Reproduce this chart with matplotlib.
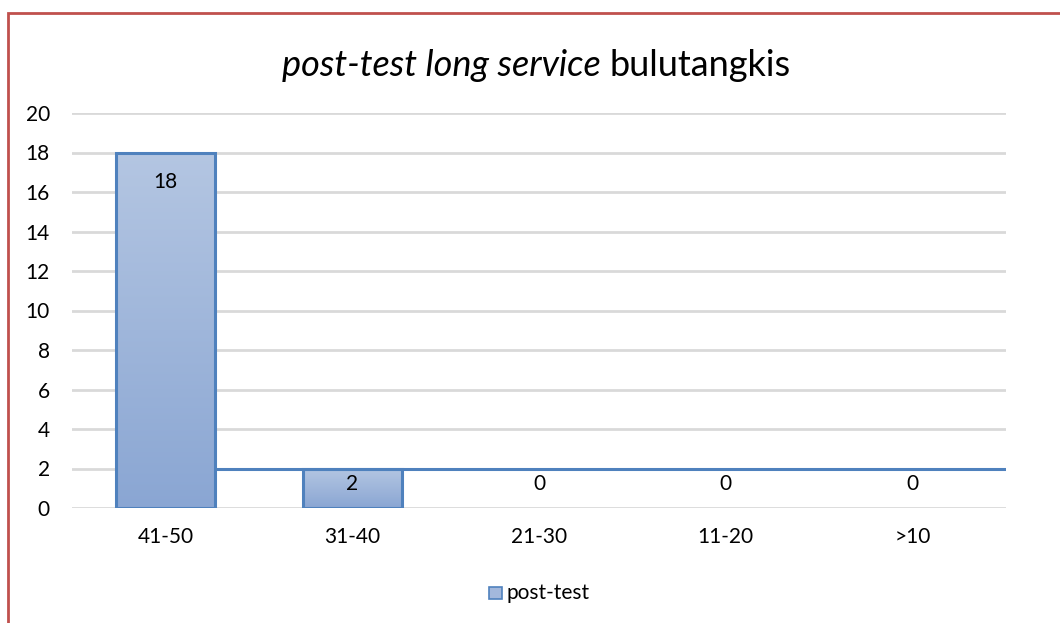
import numpy as np
import matplotlib
matplotlib.use("Agg")
import matplotlib.pyplot as plt
from matplotlib.patches import Rectangle

# Data
categories = ["41-50", "31-40", "21-30", "11-20", ">10"]
values = [18, 2, 0, 0, 0]
series_name = "post-test"

plt.rcParams["font.family"] = ["Lato", "DejaVu Sans"]

fig = plt.figure(figsize=(10.6, 6.23), dpi=100)
W, H = 1060, 623
ax = fig.add_axes([72 / W, 1 - 508 / H, (1006 - 72) / W, (508 - 113) / H])

x = np.arange(len(categories))
bar_w = 0.53
edge = "#4f81bd"

# gradient fill for bars (light top, darker bottom)
grad = np.linspace(0, 1, 256).reshape(-1, 1)
cmap = matplotlib.colors.LinearSegmentedColormap.from_list("g", ["#8aa6d3", "#b4c6e2"])

bars = ax.bar(x, values, width=bar_w, facecolor="none", edgecolor=edge,
              linewidth=2.2, zorder=3)
for b in bars:
    h = b.get_height()
    if h <= 0:
        b.set_visible(False)
        continue
    im = ax.imshow(grad, cmap=cmap, aspect="auto", origin="lower",
                   extent=[b.get_x(), b.get_x() + b.get_width(), 0, h], zorder=2)
    im.set_clip_path(b)

# the odd horizontal line at the height of the second bar
ax.hlines(values[1], x[0] + bar_w / 2, len(categories) - 0.5,
          color=edge, linewidth=2.2, zorder=3)

# data labels
for xi, v in zip(x, values):
    ly = v - 1.5 if v > 3 else 1.2
    ax.text(xi, ly, str(v), ha="center", va="center", fontsize=15, zorder=4)

ax.set_xlim(-0.5, len(categories) - 0.5)
ax.set_ylim(0, 20)
ax.set_yticks(range(0, 21, 2))
ax.set_xticks(x)
ax.set_xticklabels(categories)
ax.tick_params(axis="both", length=0, labelsize=15)
ax.tick_params(axis="x", pad=14)
ax.tick_params(axis="y", pad=16)
ax.grid(axis="y", color="#d9d9d9", linewidth=2, zorder=0)
ax.set_axisbelow(True)
for s in ax.spines.values():
    s.set_visible(False)

# title: italic part + regular part, centred together
ty = 1 - 66 / H
t1 = fig.text(0.5, ty, "post-test long service ", fontsize=26,
              style="italic", ha="right", va="center")
t2 = fig.text(0.5, ty, "bulutangkis", fontsize=26, ha="left", va="center")
fig.canvas.draw()
r = fig.canvas.get_renderer()
w1 = t1.get_window_extent(r).width
w2 = t2.get_window_extent(r).width
start = 536 - (w1 + w2) / 2
t1.set_position(((start + w1) / W, ty))
t2.set_position(((start + w1) / W, ty))

# legend
fig.patches.append(Rectangle((489 / W, 1 - 599 / H), 13 / W, 12 / H,
                             transform=fig.transFigure, facecolor="#a3b8dc",
                             edgecolor=edge, linewidth=1.2))
fig.text(506 / W, 1 - 593 / H, series_name, fontsize=15, ha="left", va="center")

# outer chart border
fig.patches.append(Rectangle((8 / W, -0.05), 1.1, 1 - 13 / H + 0.05,
                             transform=fig.transFigure, facecolor="none",
                             edgecolor="#c0504d", linewidth=2))

fig.savefig("out.png", dpi=100)
